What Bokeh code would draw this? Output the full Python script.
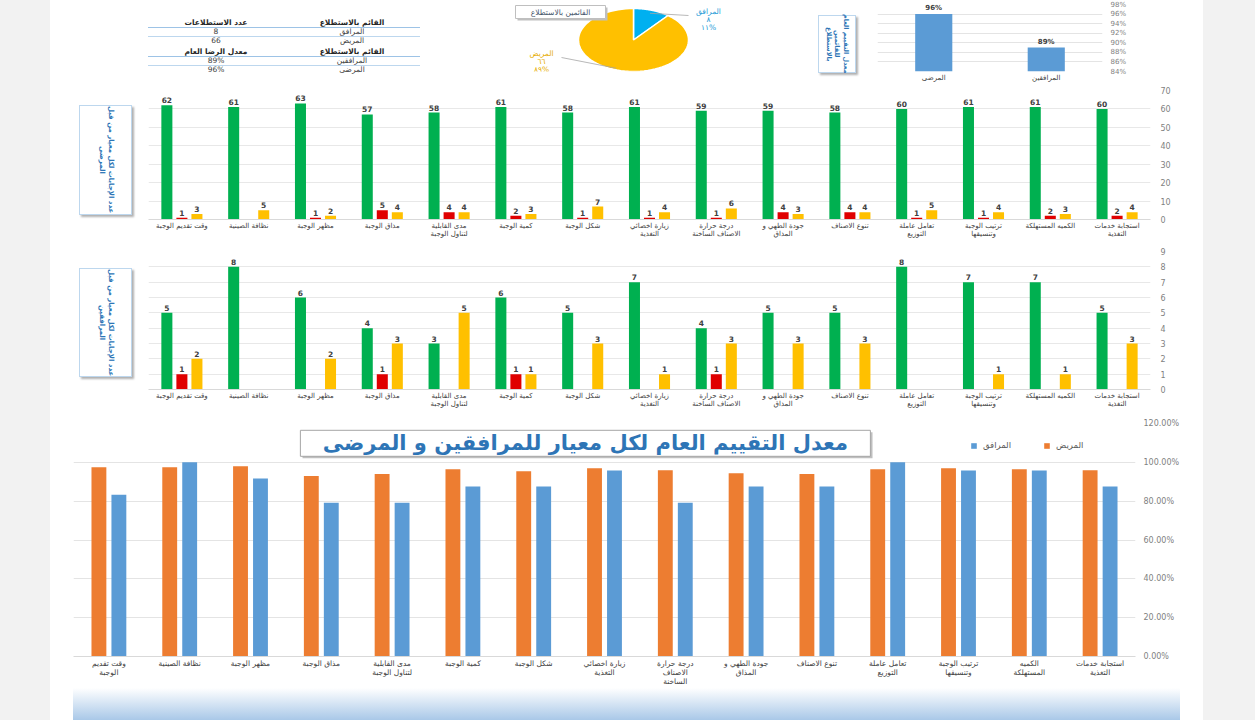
import numpy as np
from bokeh.plotting import figure
from bokeh.models import (ColumnDataSource, Range1d, FactorRange, Legend, LegendItem,
                          NumeralTickFormatter, FixedTicker, Div, Spacer, Label)
from bokeh.layouts import row, column
from bokeh.core.properties import value
from bokeh.transform import dodge
from bokeh.embed import file_html
from bokeh.resources import INLINE

FONT = "DejaVu Sans"

# ---------------- data ----------------
criteria_counts = [
    "وقت تقديم الوجبة", "نظافة الصينية", "مظهر الوجبة", "مذاق الوجبة",
    "مدى القابلية\nلتناول الوجبة", "كمية الوجبة", "شكل الوجبة", "زيارة اخصائي\nالتغذية",
    "درجة حرارة\nالاصناف الساخنة", "جودة الطهي و\nالمذاق", "تنوع الاصناف",
    "تعامل عاملة\nالتوزيع", "ترتيب الوجبة\nوتنسيقها", "الكميه المستهلكة",
    "استجابة خدمات\nالتغذية",
]
criteria_rates = [
    "وقت تقديم\nالوجبة", "نظافة الصينية", "مظهر الوجبة", "مذاق الوجبة",
    "مدى القابلية\nلتناول الوجبة", "كمية الوجبة", "شكل الوجبة", "زيارة اخصائي\nالتغذية",
    "درجة حرارة\nالاصناف\nالساخنة", "جودة الطهي و\nالمذاق", "تنوع الاصناف",
    "تعامل عاملة\nالتوزيع", "ترتيب الوجبة\nوتنسيقها", "الكميه\nالمستهلكة",
    "استجابة خدمات\nالتغذية",
]

patients_satisfied = [62, 61, 63, 57, 58, 61, 58, 61, 59, 59, 58, 60, 61, 61, 60]
patients_unsatisfied = [1, 0, 1, 5, 4, 2, 1, 1, 1, 4, 4, 1, 1, 2, 2]
patients_neutral = [3, 5, 2, 4, 4, 3, 7, 4, 6, 3, 4, 5, 4, 3, 4]

companions_satisfied = [5, 8, 6, 4, 3, 6, 5, 7, 4, 5, 5, 8, 7, 7, 5]
companions_unsatisfied = [1, 0, 0, 1, 0, 1, 0, 0, 1, 0, 0, 0, 0, 0, 0]
companions_neutral = [2, 0, 2, 3, 5, 1, 3, 1, 3, 3, 3, 0, 1, 1, 3]

patients_rate = [0.9747, 0.9747, 0.9798, 0.9293, 0.9394, 0.9646, 0.9545, 0.9697,
                 0.9596, 0.9444, 0.9394, 0.9646, 0.9697, 0.9646, 0.9596]
companions_rate = [0.8333, 1.0, 0.9167, 0.7917, 0.7917, 0.875, 0.875, 0.9583,
                   0.7917, 0.875, 0.875, 1.0, 0.9583, 0.9583, 0.875]

respondents = ["المرافق", "المريض"]
respondent_counts = [8, 66]
respondent_counts_ar = ["٨", "٦٦"]
respondent_pct_ar = ["١١%", "٨٩%"]

overall_groups = ["المرضى", "المرافقين"]
overall_rates = [0.96, 0.89]

table_count_labels = ["المرافق", "المريض"]
table_counts = [8, 66]
table_rate_labels = ["المرافقين", "المرضى"]
table_rates = ["89%", "96%"]

count_ticks_patients = list(range(0, 71, 10))
count_ticks_companions = list(range(0, 10))
rate_ticks = [0.0, 0.2, 0.4, 0.6, 0.8, 1.0, 1.2]
overall_ticks = [0.84, 0.86, 0.88, 0.90, 0.92, 0.94, 0.96, 0.98]

GREEN = "#00b050"
RED = "#e00000"
GOLD = "#ffc000"
ORANGE = "#ed7d31"
BLUE = "#5b9bd5"
SKY = "#00b0f0"
TXT = "#404040"
TICK = "#7f7f7f"
GRID = "#e4e4e4"
BOXBLUE = "#2e75b6"


def style_axes(p, label_size):
    p.outline_line_color = None
    p.xgrid.grid_line_color = None
    p.ygrid.grid_line_color = GRID
    p.yaxis.axis_line_color = None
    p.yaxis.major_tick_line_color = None
    p.yaxis.minor_tick_line_color = None
    p.yaxis.major_tick_out = 0
    p.yaxis.major_label_text_color = TICK
    p.yaxis.major_label_text_font = FONT
    p.yaxis.major_label_text_font_size = "8px"
    p.xaxis.axis_line_color = "#d9d9d9"
    p.xaxis.major_tick_line_color = None
    p.xaxis.major_tick_out = 0
    p.xaxis.major_tick_in = 0
    p.xaxis.major_label_standoff = 2
    p.xaxis.major_label_text_color = TXT
    p.xaxis.major_label_text_font = FONT
    p.xaxis.major_label_text_font_size = label_size
    p.xaxis.major_label_text_line_height = 1.0


# ---------------- label boxes (HTML) ----------------
def box_div(w, h, left, top, bw, bh, lines, size):
    inner = "<br>".join(lines)
    html = (
        f"<div style='margin-left:{left}px;margin-top:{top}px;width:{bw}px;height:{bh}px;"
        "box-sizing:border-box;border:1px solid #bdd7ee;background:#ffffff;"
        "box-shadow:2px 2px 2px #b0b0b0;display:flex;align-items:center;justify-content:center;'>"
        f"<div style='writing-mode:vertical-rl;white-space:nowrap;font-family:\"DejaVu Sans\";"
        f"font-weight:bold;font-size:{size};color:{BOXBLUE};text-align:center;line-height:1.35;'>"
        f"{inner}</div></div>"
    )
    return Div(text=html, width=w, height=h, margin=0)


# ---------------- table (HTML) ----------------
def trow(left, right, bold=False, line=None):
    st = "height:8px;line-height:8px;padding:0;text-align:center;white-space:nowrap;"
    if bold:
        st += "font-weight:bold;color:#262626;"
    if line:
        st += f"border-bottom:1px solid {line};"
    return f"<tr><td style='{st}'>{left}</td><td style='{st}'>{right}</td></tr>"


tstyle = ("border-collapse:collapse;table-layout:fixed;width:272px;margin-left:3px;"
          "font-family:\"DejaVu Sans\";font-size:7.5px;color:#404040;")
table_html = (
    f"<table style='{tstyle}margin-top:19px;'>"
    + trow("عدد الاستطلاعات", "القائم بالاستطلاع", True, "#9dc3e6")
    + trow(str(table_counts[0]), table_count_labels[0], False, "#bdd7ee")
    + trow(str(table_counts[1]), table_count_labels[1])
    + "</table>"
    + f"<table style='{tstyle}margin-top:3px;'>"
    + trow("معدل الرضا العام", "القائم بالاستطلاع", True, "#9dc3e6")
    + trow(table_rates[0], table_rate_labels[0], False, "#bdd7ee")
    + trow(table_rates[1], table_rate_labels[1])
    + "</table>"
)
table = Div(text=table_html, width=280, height=86, margin=0)

# ---------------- pie ----------------
# the frame is aligned with the bar chart of the same row (page y 4..71),
# so the y range is chosen to keep data y = 86 - page y
pie = figure(width=225, height=86, x_range=Range1d(0, 225), y_range=Range1d(15, 82),
             output_backend="svg", toolbar_location=None,
             min_border_left=0, min_border_right=0, min_border_top=4, min_border_bottom=15)
pie.xaxis.visible = False
pie.yaxis.visible = False
pie.grid.grid_line_color = None
pie.outline_line_color = None
cx, cy, rx, ry = 128, 46.5, 55, 31.5
total = float(sum(respondent_counts))
cum = np.cumsum([0] + respondent_counts) / total
xs, ys, mids = [], [], []
for i in range(len(respondent_counts)):
    a0 = np.pi / 2 - 2 * np.pi * cum[i]
    a1 = np.pi / 2 - 2 * np.pi * cum[i + 1]
    t = np.linspace(a0, a1, 80)
    xs.append([cx] + list(cx + rx * np.cos(t)) + [cx])
    ys.append([cy] + list(cy + ry * np.sin(t)) + [cy])
    mids.append((a0 + a1) / 2)
pie.patches(xs=xs, ys=ys, fill_color=[SKY, GOLD], line_color="white", line_width=1.5)
lx = [cx + rx * 0.9 * np.cos(mids[0]), cx + rx * 0.95 * np.cos(mids[1])]
ly = [cy + ry * 0.9 * np.sin(mids[0]), cy + ry * 0.95 * np.sin(mids[1])]
pie.segment(x0=lx, y0=ly, x1=[183, 56], y1=[71, 29], line_color="#a6a6a6", line_width=0.8)
label_pos = [(203, 80), (36, 38)]
label_cols = ["#1e9bd7", "#e6ad00"]
for i in range(len(respondents)):
    pie.add_layout(Label(x=label_pos[i][0], y=label_pos[i][1],
                         text=f"{respondents[i]}\n{respondent_counts_ar[i]}\n{respondent_pct_ar[i]}",
                         text_align="center", text_baseline="top", text_font=FONT,
                         text_font_size="7.5px", text_color=label_cols[i], text_line_height=0.9))
pie.rect(x=[57], y=[72.5], width=[90], height=[13], fill_color="#bfbfbf", line_color=None)
pie.rect(x=[55], y=[74.5], width=[90], height=[13], fill_color="white", line_color="#bfbfbf")
pie.text(x=[55], y=[74.5], text=["القائمين بالاستطلاع"], text_align="center", text_baseline="middle",
         text_font=value(FONT), text_font_size="7.5px", text_color="#44546a")

# ---------------- top-right label box + bar ----------------
topbox = box_div(45, 86, 3, 15, 38, 58, ["معدل التقييم العام", "للقائمين", "بالاستطلاع"], "6.5px")

topbar = figure(width=290, height=86, x_range=FactorRange(factors=overall_groups),
                y_range=Range1d(0.84, 0.98), y_axis_location="right", output_backend="svg",
                toolbar_location=None, min_border_left=17, min_border_right=48,
                min_border_top=4, min_border_bottom=15)
style_axes(topbar, "7px")
topbar.xaxis.axis_line_color = None
topbar.yaxis.major_label_text_font_size = "7px"
topbar.yaxis.major_label_standoff = 8
topbar.yaxis.ticker = FixedTicker(ticks=overall_ticks)
topbar.yaxis.formatter = NumeralTickFormatter(format="0%")
osrc = ColumnDataSource(dict(g=overall_groups, v=overall_rates,
                             t=[f"{v:.0%}" for v in overall_rates]))
topbar.vbar(x="g", top="v", bottom=0, width=0.33, source=osrc, fill_color=BLUE, line_color=None)
topbar.text(x="g", y="v", text="t", source=osrc, text_align="center", text_baseline="bottom",
            y_offset=-2, text_font=value(FONT), text_font_size="7px", text_font_style="bold",
            text_color=TXT)


# ---------------- count charts ----------------
def count_chart(sat, uns, neu, ymax, ticks, h, btop, bbottom):
    p = figure(width=1068, height=h, x_range=FactorRange(factors=criteria_counts),
               y_range=Range1d(0, ymax), y_axis_location="right", output_backend="svg",
               toolbar_location=None, min_border_left=13, min_border_right=53,
               min_border_top=btop, min_border_bottom=bbottom)
    p.x_range.range_padding = 0
    style_axes(p, "7px")
    p.ygrid.grid_line_color = "#e8e8e8"
    p.yaxis.ticker = FixedTicker(ticks=ticks)
    p.yaxis.major_label_standoff = 10
    src = ColumnDataSource(dict(cat=criteria_counts, sat=sat, uns=uns, neu=neu))
    for col, off, color in (("sat", -0.225, GREEN), ("uns", 0.0, RED), ("neu", 0.225, GOLD)):
        p.vbar(x=dodge("cat", off, range=p.x_range), top=col, width=0.165, source=src,
               fill_color=color, line_color=None)
        vals = src.data[col]
        keep = [i for i, v in enumerate(vals) if v > 0]
        lsrc = ColumnDataSource(dict(cat=[criteria_counts[i] for i in keep],
                                     v=[vals[i] for i in keep],
                                     t=[str(vals[i]) for i in keep]))
        p.text(x=dodge("cat", off, range=p.x_range), y="v", text="t", source=lsrc,
               text_align="center", text_baseline="bottom", y_offset=-2,
               text_font=value(FONT), text_font_size="7.5px", text_font_style="bold",
               text_color=TXT)
    return p


chart2 = count_chart(patients_satisfied, patients_unsatisfied, patients_neutral,
                     70, count_ticks_patients, 159, 4, 26)
chart3 = count_chart(companions_satisfied, companions_unsatisfied, companions_neutral,
                     9, count_ticks_companions, 165, 6, 21)
box2 = box_div(57, 159, 1, 19, 53, 110, ["عدد الإجابات لكل معيار من قبل", "المرضى"], "7px")
box3 = box_div(57, 165, 1, 23, 53, 109, ["عدد الإجابات لكل معيار من قبل", "المرافقين"], "7px")

# ---------------- rate chart ----------------
chart4 = figure(width=1153, height=278, x_range=FactorRange(factors=criteria_rates),
                y_range=Range1d(0, 1.2), y_axis_location="right", output_backend="svg",
                toolbar_location=None, min_border_left=23, min_border_right=68,
                min_border_top=13, min_border_bottom=29)
chart4.x_range.range_padding = 0
style_axes(chart4, "7.5px")
chart4.yaxis.ticker = FixedTicker(ticks=rate_ticks)
chart4.yaxis.formatter = NumeralTickFormatter(format="0.00%")
chart4.yaxis.major_label_standoff = 8
rsrc = ColumnDataSource(dict(cat=criteria_rates, pat=patients_rate, comp=companions_rate))
r_pat = chart4.vbar(x=dodge("cat", -0.141, range=chart4.x_range), top="pat", width=0.21,
                    source=rsrc, fill_color=ORANGE, line_color=None)
r_comp = chart4.vbar(x=dodge("cat", 0.141, range=chart4.x_range), top="comp", width=0.21,
                     source=rsrc, fill_color=BLUE, line_color=None)
chart4.rect(x=[7.26], y=[1.088], width=[570], height=[26], width_units="screen",
            height_units="screen", fill_color="#bfbfbf", line_color=None)
chart4.rect(x=[7.23], y=[1.098], width=[570], height=[26], width_units="screen",
            height_units="screen", fill_color="white", line_color="#a6a6a6")
chart4.text(x=[7.23], y=[1.098], text=["معدل التقييم العام لكل معيار للمرافقين و المرضى"],
            text_align="center", text_baseline="middle", text_font=value(FONT),
            text_font_size="21px", text_font_style="bold", text_color=BOXBLUE)
legend = Legend(items=[LegendItem(label="المرافق", renderers=[r_comp]),
                       LegendItem(label="المريض", renderers=[r_pat])],
                orientation="horizontal", location=(897, 206), border_line_color=None,
                background_fill_alpha=0, label_text_font=FONT, label_text_font_size="8.5px",
                label_text_color="#595959", glyph_width=7, glyph_height=7, spacing=32,
                padding=0, margin=0, label_standoff=6)
chart4.add_layout(legend)

# ---------------- layout ----------------
band = Div(text="", width=1107, height=32, margin=0,
           styles={"background": "linear-gradient(to bottom, #ffffff, #a9c8e8)"})


def sp(w, h):
    return Spacer(width=w, height=h, margin=0)


rowA = row(sp(95, 86), table, sp(80, 86), pie, sp(85, 86), topbox, topbar, sp(53, 86))
rowB = row(sp(28, 159), box2, chart2)
rowC = row(sp(28, 165), box3, chart3)
rowE = row(sp(23, 32), band, sp(23, 32))
center = column(rowA, rowB, rowC, chart4, rowE)
left_gray = Div(text="", width=50, height=720, margin=0, styles={"background-color": "#f2f2f2"})
right_gray = Div(text="", width=52, height=720, margin=0, styles={"background-color": "#f2f2f2"})
page = row(left_gray, center, right_gray)

open("out.html", "w").write(file_html(page, INLINE))
